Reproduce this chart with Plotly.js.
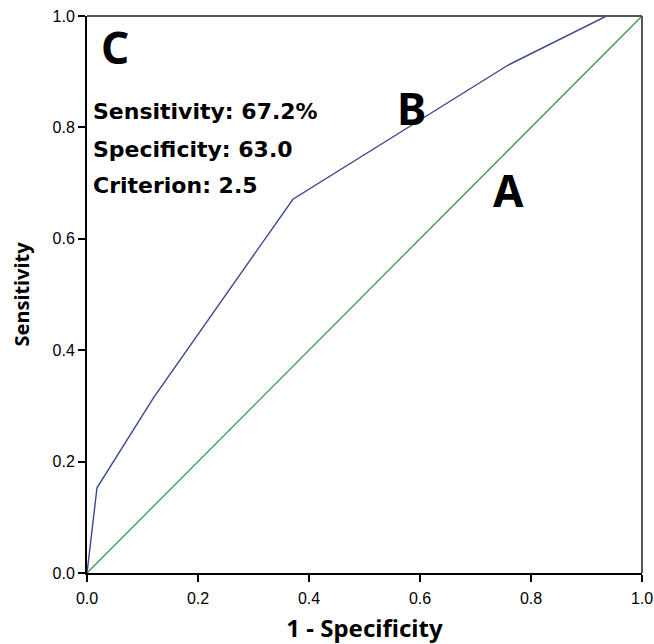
<!DOCTYPE html>
<html>
<head>
<meta charset="utf-8">
<script src="https://cdn.plot.ly/plotly-3.0.1.min.js"></script>
<style>html,body{margin:0;padding:0;background:#fff;}#chart{width:654px;height:644px;}</style>
</head>
<body>
<div id="chart"></div>
<script>
// Reference line A (chance diagonal)
var refX = [0, 1];
var refY = [0, 1];
// ROC curve B
var rocX = [0, 0.018, 0.12, 0.371, 0.759, 0.936, 1];
var rocY = [0, 0.153, 0.315, 0.671, 0.912, 1, 1];
var tickVals = [0, 0.2, 0.4, 0.6, 0.8, 1.0];
var tickText = ['0.0', '0.2', '0.4', '0.6', '0.8', '1.0'];
var infoLines = ['Sensitivity: 67.2%', 'Specificity: 63.0', 'Criterion: 2.5'];

var traces = [
  {x: refX, y: refY, mode: 'lines', line: {color: '#3a9a4a', width: 1.3}, hoverinfo: 'skip'},
  {x: rocX, y: rocY, mode: 'lines', line: {color: '#3b4790', width: 1.4}, hoverinfo: 'skip'}
];

var boldFont = 'Noto Sans, Open Sans, sans-serif';
var wideFont = 'DejaVu Sans, sans-serif';
var annotations = [
  {x: 0.05, y: 0.945, xref: 'x', yref: 'y', text: '<b>C</b>', showarrow: false, font: {family: boldFont, size: 44, color: '#000'}},
  {x: 0.584, y: 0.834, xref: 'x', yref: 'y', text: '<b>B</b>', showarrow: false, font: {family: boldFont, size: 44, color: '#000'}},
  {x: 0.76, y: 0.688, xref: 'x', yref: 'y', text: '<b>A</b>', showarrow: false, font: {family: boldFont, size: 44, color: '#000'}}
];
var infoY = [0.828, 0.761, 0.695];
for (var i = 0; i < infoLines.length; i++) {
  annotations.push({x: 0.008, y: infoY[i], xref: 'x', yref: 'y', xanchor: 'left', text: '<b>' + infoLines[i] + '</b>', showarrow: false, font: {family: wideFont, size: 22, color: '#000'}});
}

var layout = {
  width: 654, height: 644,
  margin: {l: 87, r: 12, t: 16, b: 71},
  showlegend: false,
  paper_bgcolor: '#fff', plot_bgcolor: '#fff',
  xaxis: {
    range: [0, 1], tickvals: tickVals, ticktext: tickText,
    showgrid: false, zeroline: false,
    showline: true, linecolor: '#000', linewidth: 2,
    ticks: 'outside', ticklen: 7, tickwidth: 2, tickcolor: '#000',
    ticklabelstandoff: 3,
    tickfont: {family: 'Liberation Sans, Arial, sans-serif', size: 16, color: '#000'},
    title: {text: '<b>1 - Specificity</b>', font: {family: boldFont, size: 24, color: '#000'}, standoff: 20}
  },
  yaxis: {
    range: [0, 1], tickvals: tickVals, ticktext: tickText,
    showgrid: false, zeroline: false,
    showline: true, linecolor: '#000', linewidth: 2,
    ticks: 'outside', ticklen: 7, tickwidth: 2, tickcolor: '#000',
    tickfont: {family: 'Liberation Sans, Arial, sans-serif', size: 16, color: '#000'},
    title: {text: '<b>Sensitivity</b>', font: {family: boldFont, size: 20, color: '#000'}, standoff: 18}
  },
  shapes: [
    {type: 'line', xref: 'paper', yref: 'paper', x0: 0, x1: 1, y0: 1, y1: 1, line: {color: '#555', width: 2}},
    {type: 'line', xref: 'paper', yref: 'paper', x0: 1, x1: 1, y0: 0, y1: 1, line: {color: '#555', width: 2}}
  ],
  annotations: annotations
};

Plotly.newPlot('chart', traces, layout, {displayModeBar: false, staticPlot: true});
</script>
</body>
</html>
